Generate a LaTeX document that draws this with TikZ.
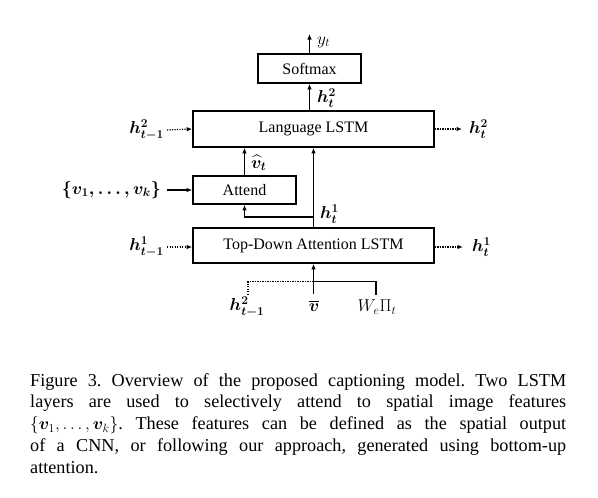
\documentclass[tikz,border=0pt]{standalone}
\usepackage{fontspec}
\usepackage{amsmath}
\usepackage{bm}
\setmainfont{Liberation Serif}
\usetikzlibrary{arrows.meta}
\frenchspacing
\begin{document}
\begin{tikzpicture}[x=1pt,y=-1pt,
  box/.style={draw, line width=1.6pt, inner sep=0pt, font=\fontsize{16}{18}\selectfont},
  conn/.style={line width=1.5pt},
  arr/.style={conn, -{Latex[length=5.5pt,width=4.5pt]}},
  dot/.style={line width=1.3pt, dash pattern=on 1.2pt off 1.3pt},
  darr/.style={dot, -{Latex[length=5.5pt,width=4.5pt]}},
  lab/.style={inner sep=0pt, font=\fontsize{18.5}{21}\selectfont},
  blab/.style={lab, font=\fontsize{18.5}{21}\selectfont\boldmath}
]
\useasboundingbox (0,0) rectangle (598,498);

% boxes
\node[box, minimum width=103pt, minimum height=29pt] (softmax) at (309.5,68.5) {Softmax};
\node[box, minimum width=241pt, minimum height=36pt] (lang) at (313.5,129) {Language LSTM};
\node[box, minimum width=103pt, minimum height=28pt] (attend) at (244.5,190) {Attend};
\node[box, minimum width=241pt, minimum height=35pt] (td) at (313.5,245.5) {Top-Down Attention LSTM};

% top output
\coordinate (ytop) at (309.5,34);
\draw[arr] (softmax.north) -- (ytop);
\node[lab, anchor=west] (yt) at (317,42) {$y_t$};
\draw[arr] (softmax.south |- lang.north) -- (softmax.south);
\node[blab, anchor=west] (h2up) at (317,98) {$\bm{h}^2_t$};

% attend to language
\draw[arr] (attend.north) -- (attend.north |- lang.south);
\node[blab, anchor=west] (vhat) at (251,163) {$\widehat{\bm{v}}_t$};
\draw[arr] (td.north) -- (lang.south);
\coordinate (br) at (313.5,217);
\draw[arr] (br) -| (attend.south);
\node[blab, anchor=west] (h1up) at (320,214) {$\bm{h}^1_t$};

% left inputs
\node[blab, anchor=east, inner xsep=3pt] (hl2) at (167,130) {$\bm{h}^2_{t-1}$};
\draw[darr] (hl2.east) -- (lang.west);
\node[blab, anchor=east, inner xsep=6pt] (vset) at (167,190) {$\{\bm{v}_1,\ldots,\bm{v}_{k}\}$};
\draw[arr] (vset.east) -- (attend.west);
\node[blab, anchor=east, inner xsep=3pt] (hl1) at (167,247) {$\bm{h}^1_{t-1}$};
\draw[darr] (hl1.east) -- (td.west |- hl1.east);

% right outputs
\node[blab, anchor=west, inner xsep=7pt] (hr2) at (462,129) {$\bm{h}^2_t$};
\draw[darr] (lang.east) -- (hr2.west);
\node[blab, anchor=west, inner xsep=9pt] (hr1) at (463,247) {$\bm{h}^1_t$};
\draw[darr] (td.east |- hr1.west) -- (hr1.west);

% bottom inputs
\node[blab] (hb) at (247,307) {$\bm{h}^2_{t-1}$};
\node[blab] (vb) at (314,306) {$\overline{\bm{v}}$};
\node[lab] (we) at (377,307) {$W_e\Pi_t$};
\coordinate (vs) at (313.5,294);
\coordinate (js) at (313.5,281.5);
\coordinate (ws) at (376,295);
\coordinate (hs) at (248,295);
\draw[arr] (vs) -- (td.south);
\draw[conn] (js) -| (ws);
\draw[dot] (js) -| (hs);

% caption
\node[anchor=base west, text width=536pt, align=justify, inner sep=0pt,
      font=\fontsize{18.2}{21.8}\selectfont] (cap) at (30,386)
{Figure 3. Overview of the proposed captioning model. Two LSTM\linebreak
layers are used to selectively attend to spatial image features\linebreak
$\{\bm{v}_1,\ldots,\bm{v}_k\}$. These features can be defined as the spatial output\linebreak
of a CNN, or following our approach, generated using bottom-up\linebreak
attention.};
\end{tikzpicture}
\end{document}
